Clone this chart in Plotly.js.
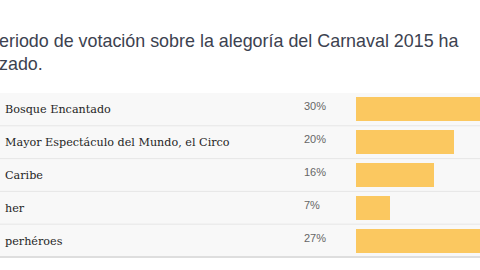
<!DOCTYPE html>
<html>
<head>
<meta charset="utf-8">
<script src="https://cdn.plot.ly/plotly-3.0.1.min.js"></script>
<style>html,body{margin:0;padding:0;background:#fff;}#chart{width:480px;height:270px;}</style>
</head>
<body>
<div id="chart"></div>
<script>
var categories = ["Bosque Encantado", "Mayor Espectáculo del Mundo, el Circo", "Caribe", "her", "perhéroes"];
var values = [30, 20, 16, 7, 27];
var pctLabels = ["30%", "20%", "16%", "7%", "27%"];
var titleText = "eriodo de votación sobre la alegoría del Carnaval 2015 ha<br>zado.";

var trace = {
  type: "bar",
  orientation: "h",
  y: categories,
  x: values,
  width: 0.73,
  marker: {color: "#fbc860", line: {width: 0}},
  hoverinfo: "skip"
};

var annotations = [];
categories.forEach(function (c, i) {
  annotations.push({
    xref: "paper", yref: "y", x: 0.006, y: c, xanchor: "left", yanchor: "middle",
    text: c, showarrow: false, yshift: -0.5,
    font: {family: "DejaVu Serif", size: 11.2, color: "#252525"}
  });
  annotations.push({
    xref: "paper", yref: "y", x: 302 / 480, y: c, xanchor: "left", yanchor: "middle",
    text: pctLabels[i], showarrow: false, yshift: 3,
    font: {family: "Liberation Sans", size: 11, color: "#666"}
  });
});

annotations.push({
  xref: "paper", yref: "paper", x: 0, y: 1, xanchor: "left", yanchor: "bottom", align: "left",
  xshift: -3, yshift: 17, text: titleText, showarrow: false,
  font: {family: "Liberation Sans", size: 17.9, color: "#3c4250"}
});

var shapes = [{
  type: "rect", xref: "paper", yref: "paper", x0: 0, x1: 1, y0: 0, y1: 1,
  fillcolor: "#f8f8f8", line: {width: 0}, layer: "below"
}];
for (var k = 1; k < categories.length; k++) {
  shapes.push({type: "line", xref: "paper", yref: "paper", x0: 0, x1: 1, y0: k / categories.length, y1: k / categories.length,
    line: {color: "#e6e6e6", width: 1}, layer: "below"});
}
shapes.push({type: "line", xref: "paper", yref: "paper", x0: 0, x1: 1, y0: 0, y1: 0,
  line: {color: "#dedede", width: 2}, layer: "above"});

var layout = {
  width: 480, height: 270,
  margin: {l: 0, r: 0, t: 93, b: 13, pad: 0},
  paper_bgcolor: "#ffffff",
  plot_bgcolor: "rgba(0,0,0,0)",
  showlegend: false,
  bargap: 0,
  xaxis: {domain: [356 / 480, 1], range: [0, 25.3], visible: false, fixedrange: true},
  yaxis: {autorange: "reversed", visible: false, fixedrange: true},
  annotations: annotations,
  shapes: shapes
};

Plotly.newPlot("chart", [trace], layout, {displayModeBar: false, staticPlot: true});
</script>
</body>
</html>
